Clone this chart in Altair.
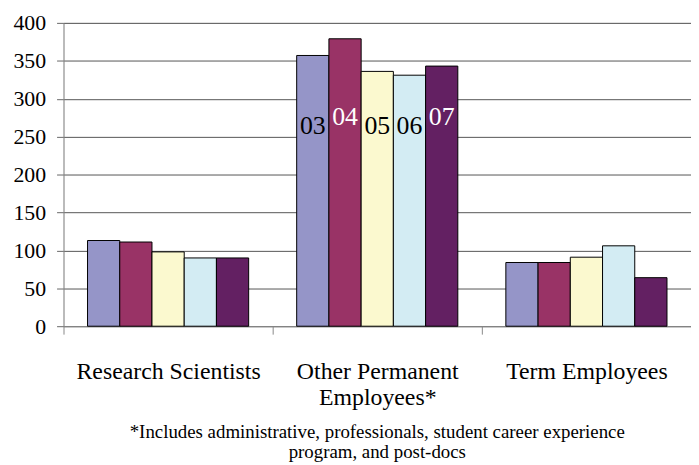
import altair as alt
import pandas as pd

categories = ["Research Scientists", "Other Permanent Employees*", "Term Employees"]
years = ["03", "04", "05", "06", "07"]
values = {
    "03": [113, 357, 84],
    "04": [111, 379, 84],
    "05": [98, 336, 91],
    "06": [90, 331, 106],
    "07": [90, 343, 64],
}
colors = ["#9595c8", "#993366", "#fbf9cf", "#d3ecf3", "#632062"]
label_colors = ["black", "white", "black", "black", "white"]
label_y = [264, 276, 264, 264, 276]
footnote = ["*Includes administrative, professionals, student career experience",
            "program, and post-docs"]

rows = []
for y in years:
    for c, v in zip(categories, values[y]):
        rows.append({"category": c, "year": y, "value": v})
df = pd.DataFrame(rows)

lab = pd.DataFrame({
    "category": [categories[1]] * len(years),
    "year": years,
    "value": label_y,
    "lc": label_colors,
})

FONT = "Liberation Serif"

x_enc = alt.X("category:N", sort=categories,
              scale=alt.Scale(paddingInner=0, paddingOuter=0),
              axis=alt.Axis(title=None, labelAngle=0, tickBand="extent",
                            labelExpr="datum.label == 'Other Permanent Employees*' ? ['Other Permanent', 'Employees*'] : datum.label",
                            labelFontSize=24, labelColor="black", labelLimit=400,
                            labelPadding=26, labelLineHeight=26,
                            domainColor="#888", tickColor="#888", tickSize=8,
                            grid=False))
xo_enc = alt.XOffset("year:N", sort=years,
                     scale=alt.Scale(paddingInner=0, paddingOuter=0.745))
y_enc = alt.Y("value:Q", scale=alt.Scale(domain=[0, 400], nice=False),
              axis=alt.Axis(title=None, values=list(range(0, 401, 50)),
                            labelOverlap=False,
                            labelFontSize=22, labelColor="black",
                            labelPadding=11, tickSize=7, tickColor="#666",
                            domainColor="#888", gridColor="#555", gridWidth=1))

bars = alt.Chart(df).mark_bar(stroke="black", strokeWidth=1).encode(
    x=x_enc,
    xOffset=xo_enc,
    y=y_enc,
    color=alt.Color("year:N", sort=years,
                    scale=alt.Scale(domain=years, range=colors), legend=None),
)

texts = alt.Chart(lab).mark_text(font=FONT, fontSize=26, baseline="middle").encode(
    x=x_enc,
    xOffset=xo_enc,
    y=y_enc,
    text="year:N",
    color=alt.Color("lc:N", scale=None),
)

chart = alt.layer(bars, texts).properties(
    width=633, height=306,
    title=alt.TitleParams(text=footnote, orient="bottom", anchor="middle",
                          font=FONT, fontSize=19, fontWeight="normal",
                          color="black", lineHeight=20, offset=14),
    autosize=alt.AutoSizeParams(type="none"),
    padding={"left": 56, "top": 13, "right": 0, "bottom": 136},
).configure_view(stroke=None).configure(
    background="white", font=FONT
).configure_axis(labelFont=FONT)

chart.save("out.html", embed_options={"renderer": "svg", "actions": False})
